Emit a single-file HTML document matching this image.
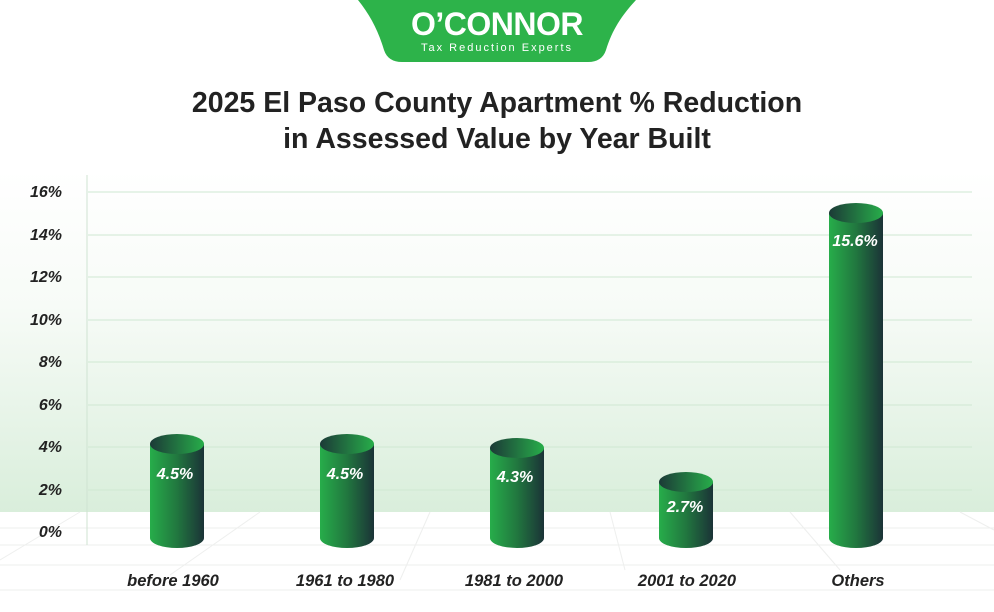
<!DOCTYPE html>
<html><head><meta charset="utf-8"><style>
html,body{margin:0;padding:0;background:#fff}
svg{display:block}
text{font-family:"Liberation Sans",Arial,sans-serif}
</style></head><body>
<svg width="994" height="612" viewBox="0 0 994 612" xmlns="http://www.w3.org/2000/svg">
<defs>
<linearGradient id="bg" x1="0" y1="0" x2="0" y2="1">
<stop offset="0" stop-color="#ffffff"/><stop offset="0.4" stop-color="#f7fbf7"/><stop offset="1" stop-color="#d9eedb"/>
</linearGradient>
<linearGradient id="body" x1="0" y1="0" x2="1" y2="0">
<stop offset="0" stop-color="#27ad4a"/><stop offset="0.5" stop-color="#21773f"/><stop offset="1" stop-color="#1b3337"/>
</linearGradient>
<linearGradient id="top" x1="0" y1="0" x2="1" y2="0">
<stop offset="0" stop-color="#1c3a37"/><stop offset="1" stop-color="#27ad4a"/>
</linearGradient>
</defs>
<rect x="0" y="170" width="994" height="342" fill="url(#bg)"/>
<g stroke="#eeefee" stroke-width="1" fill="none">
<line x1="0" y1="528" x2="994" y2="528"/><line x1="0" y1="545" x2="994" y2="545"/><line x1="0" y1="565" x2="994" y2="565"/><line x1="0" y1="590" x2="994" y2="590"/>
<line x1="80" y1="512" x2="0" y2="560"/><line x1="260" y1="512" x2="170" y2="575"/><line x1="430" y1="512" x2="400" y2="580"/><line x1="610" y1="512" x2="625" y2="570"/><line x1="790" y1="512" x2="840" y2="570"/><line x1="960" y1="512" x2="994" y2="530"/>
</g>
<g stroke="#cfe8d2" stroke-width="1">
<line x1="88" y1="192" x2="972" y2="192"/><line x1="88" y1="235" x2="972" y2="235"/><line x1="88" y1="277" x2="972" y2="277"/><line x1="88" y1="320" x2="972" y2="320"/><line x1="88" y1="362" x2="972" y2="362"/><line x1="88" y1="405" x2="972" y2="405"/><line x1="88" y1="447" x2="972" y2="447"/><line x1="88" y1="490" x2="972" y2="490"/>
</g>
<line x1="87" y1="175" x2="87" y2="545" stroke="#cfe3d2"/>
<g font-size="16" font-weight="bold" font-style="italic" fill="#222" text-anchor="end">
<text x="62" y="197">16%</text><text x="62" y="240">14%</text><text x="62" y="282">12%</text><text x="62" y="325">10%</text><text x="62" y="367">8%</text><text x="62" y="410">6%</text><text x="62" y="452">4%</text><text x="62" y="495">2%</text><text x="62" y="537">0%</text>
</g>
<path d="M358 0 H636 C622 15 612 30 606 50 Q602 62 588 62 H402 Q388 62 384 50 C378 30 370 15 358 0 Z" fill="#2db34a"/>
<text x="497" y="35" text-anchor="middle" font-size="32" font-weight="bold" fill="#fff" letter-spacing="-0.5">O’CONNOR</text>
<text x="497" y="51" text-anchor="middle" font-size="11" fill="#fff" letter-spacing="2">Tax Reduction Experts</text>
<g font-size="28.5" font-weight="bold" fill="#222" text-anchor="middle">
<text x="497" y="112">2025 El Paso County Apartment % Reduction</text>
<text x="497" y="148">in Assessed Value by Year Built</text>
</g>
<g>
<path d="M150 444 V538 A27 10 0 0 0 204 538 V444 Z" fill="url(#body)"/><ellipse cx="177" cy="444" rx="27" ry="10" fill="url(#top)"/>
<path d="M320 444 V538 A27 10 0 0 0 374 538 V444 Z" fill="url(#body)"/><ellipse cx="347" cy="444" rx="27" ry="10" fill="url(#top)"/>
<path d="M490 448 V538 A27 10 0 0 0 544 538 V448 Z" fill="url(#body)"/><ellipse cx="517" cy="448" rx="27" ry="10" fill="url(#top)"/>
<path d="M659 482 V538 A27 10 0 0 0 713 538 V482 Z" fill="url(#body)"/><ellipse cx="686" cy="482" rx="27" ry="10" fill="url(#top)"/>
<path d="M829 213 V538 A27 10 0 0 0 883 538 V213 Z" fill="url(#body)"/><ellipse cx="856" cy="213" rx="27" ry="10" fill="url(#top)"/>
</g>
<g font-size="16" font-weight="bold" font-style="italic" fill="#fff" text-anchor="middle">
<text x="175" y="479">4.5%</text><text x="345" y="479">4.5%</text><text x="515" y="482">4.3%</text><text x="685" y="512">2.7%</text><text x="855" y="246">15.6%</text>
</g>
<g font-size="16.5" font-weight="bold" font-style="italic" fill="#222" text-anchor="middle">
<text x="173" y="586">before 1960</text><text x="345" y="586">1961 to 1980</text><text x="514" y="586">1981 to 2000</text><text x="687" y="586">2001 to 2020</text><text x="858" y="586">Others</text>
</g>
</svg>
</body></html>
